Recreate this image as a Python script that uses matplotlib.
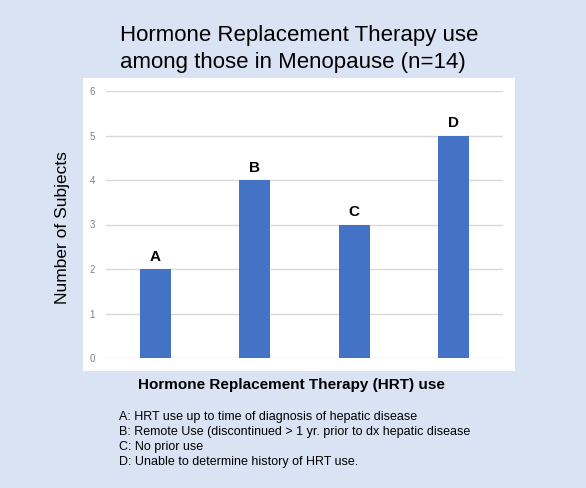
import matplotlib.pyplot as plt
from matplotlib.patches import Rectangle

categories = ["A", "B", "C", "D"]
subjects = [2, 4, 3, 5]
y_ticks = [0, 1, 2, 3, 4, 5, 6]
notes = [
    "A: HRT use up to time of diagnosis of hepatic disease",
    "B: Remote Use (discontinued > 1 yr. prior to dx hepatic disease",
    "C: No prior use",
    "D: Unable to determine history of HRT use.",
]

plt.rcParams['font.family'] = ['Liberation Sans', 'DejaVu Sans']

W, H = 586, 488
fig = plt.figure(figsize=(W / 100, H / 100), dpi=100)
fig.patch.set_facecolor("#DAE3F3")

# white chart panel
fig.patches.append(Rectangle((83 / W, 1 - 371 / H), 432 / W, 293 / H,
                             transform=fig.transFigure, facecolor="white",
                             edgecolor="none", zorder=0))

ax = fig.add_axes([106 / W, 1 - 358 / H, 397 / W, 267 / H])
ax.set_zorder(2)
ax.set_facecolor("none")
x = range(len(categories))
bars = ax.bar(x, subjects, width=0.31, color="#4472C4", zorder=3)
for b, c in zip(bars, categories):
    ax.text(b.get_x() + b.get_width() / 2, b.get_height() + 0.12, c,
            ha="center", va="bottom", fontsize=11, fontweight="bold")

ax.set_xlim(-0.5, 3.5)
ax.set_ylim(0, 6)
ax.set_yticks(y_ticks)
ax.set_xticks([])
ax.tick_params(axis="y", length=0, labelsize=7, labelcolor="#808080", pad=8)
ax.grid(axis="y", color="#D9D9D9", linewidth=1, zorder=0)
for s in ax.spines.values():
    s.set_visible(False)

fig.text(63 / W, 1 - 228 / H, "Number of Subjects", rotation=90,
         ha="center", va="center", fontsize=12.5)

fig.text(120 / W, 1 - 49 / H, "Hormone Replacement Therapy use\namong those in Menopause (n=14)",
         ha="left", va="center", fontsize=16, linespacing=1.4)

fig.text(291 / W, 1 - 385 / H, "Hormone Replacement Therapy (HRT) use",
         ha="center", va="center", fontsize=11, fontweight="bold")

for i, n in enumerate(notes):
    fig.text(119 / W, 1 - (417 + i * 15) / H, n, ha="left", va="center", fontsize=9)

fig.savefig("out.png", dpi=100, facecolor=fig.get_facecolor())
